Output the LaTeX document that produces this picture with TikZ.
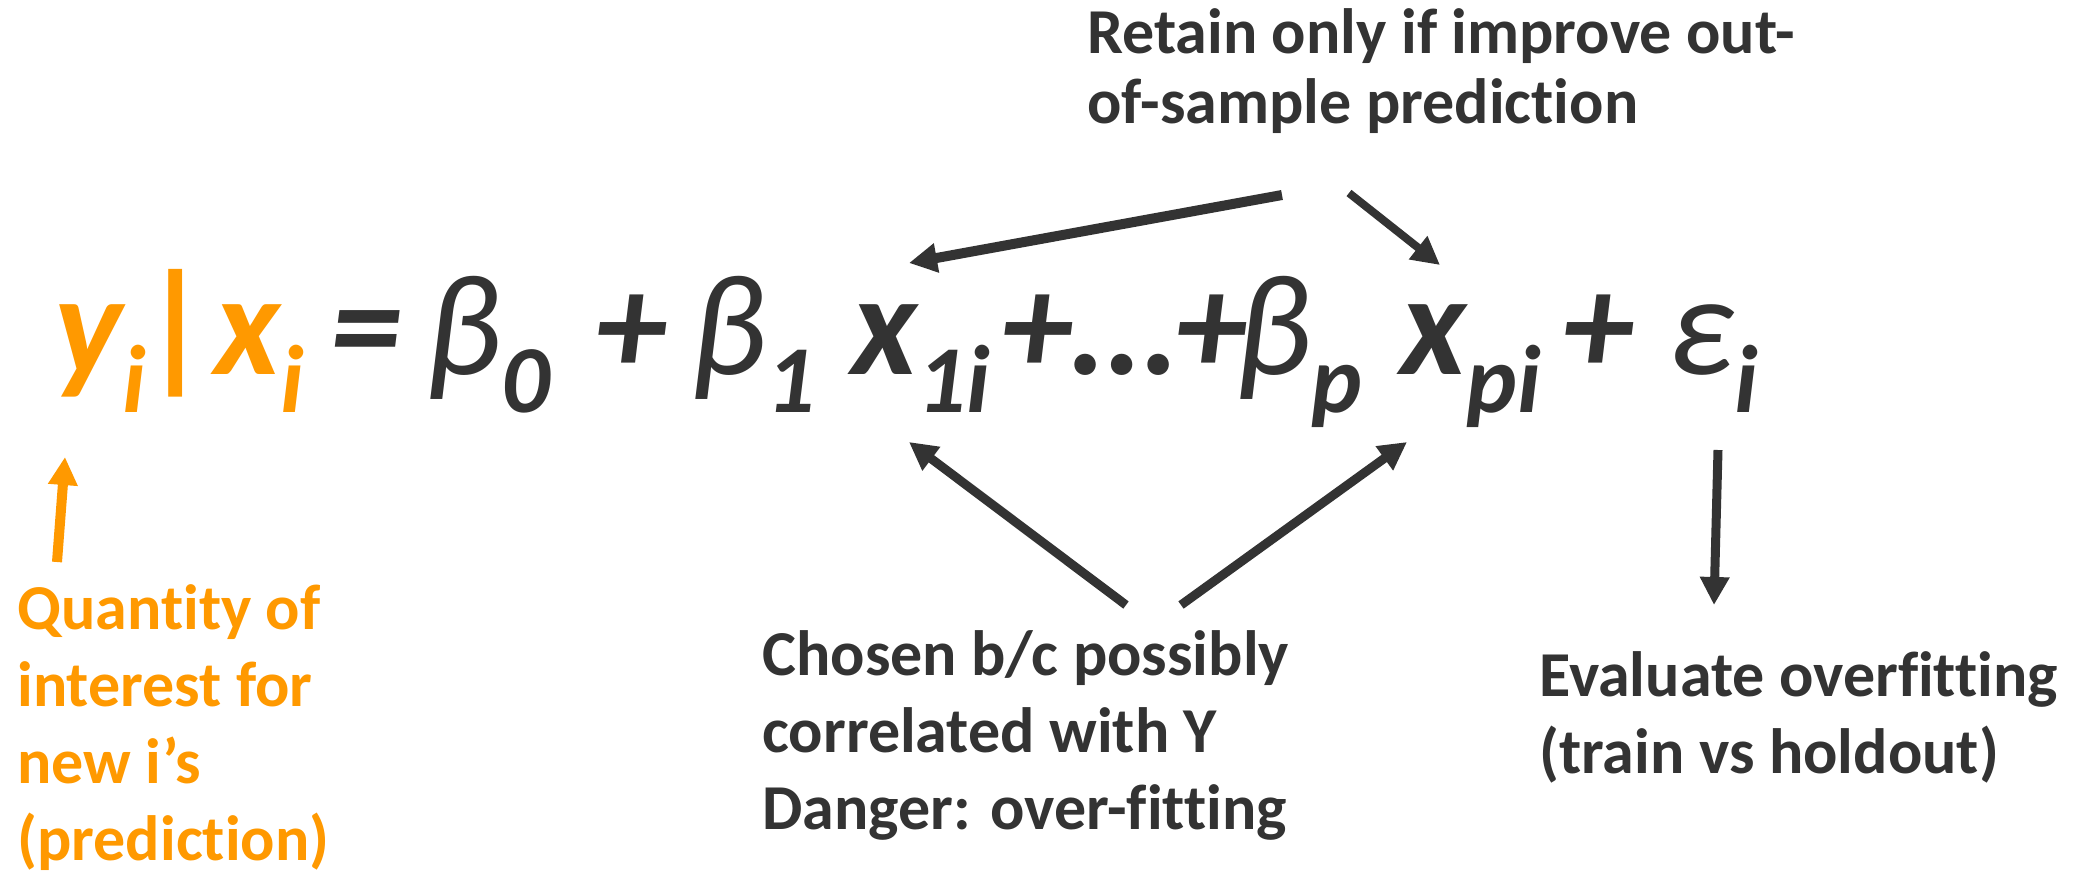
\documentclass[tikz,border=0pt]{standalone}
\usepackage{fontspec}
\setmainfont{Carlito}[Ligatures=NoCommon]
\usetikzlibrary{arrows.meta,positioning}
\definecolor{regink}{RGB}{51,51,51}
\definecolor{regorange}{RGB}{255,153,0}
% subscript of the big formula
\newcommand{\sbs}[1]{\raisebox{-19pt}{\fontsize{48}{48}\selectfont #1}}
\newcommand{\thin}{\mdseries}

\begin{document}
\begin{tikzpicture}[x=0.5pt, y=-0.5pt,
  eqterm/.style={inner sep=0pt, anchor=base west, text=regink,
                 font=\fontsize{72}{80}\selectfont\bfseries\itshape},
  lbl/.style={inner sep=0pt, anchor=base west, align=left, text=regink,
              font=\fontsize{32}{38.5}\selectfont\bfseries},
  arr/.style={-{Triangle[length=14pt,width=14pt]}, line width=4.5pt, draw=regink}
]
\fill[white] (0,0) rectangle (2085,875);
\useasboundingbox (0,0) rectangle (2085,875);
% the regression formula
\node[eqterm, text=regorange] (yx)   at (54,374)   {y\sbs{i}|x\sbs{i}};
\node[eqterm] (eq)   at (330,374)  {=};
\node[eqterm] (b0)   at (425,374)  {{\thin β}\sbs{0}};
\node[eqterm] (pl1)  at (595,374)  {+};
\node[eqterm] (b1)   at (690,374)  {{\thin β}\sbs{1}};
\node[eqterm] (x1)   at (851,374)  {x\sbs{1i}};
\node[eqterm] (dots) at (1001,374) {+…+};
\node[eqterm] (bp)   at (1235,374) {{\thin β}\sbs{p}};
\node[eqterm] (xp)   at (1400,374) {x\sbs{pi}};
\node[eqterm] (pl2)  at (1562,374) {+};
\node[eqterm] (eps)  at (1668,374) {{\thin ε}\sbs{i}};
% notes (placed by the baseline of their last line)
\node[lbl, font=\fontsize{32}{35}\selectfont\bfseries] (retain) at (1087,123)
  {Retain only if improve out-\\of-sample prediction};
\node[lbl] (chosen) at (762,829)
  {Chosen b/c possibly\\correlated with Y\\Danger: over-fitting};
\node[lbl] (evaluate) at (1539,773)
  {Evaluate overfitting\\(train vs holdout)};
\node[lbl, text=regorange] (quantity) at (17,860)
  {Quantity of\\interest for\\new i’s\\(prediction)};
% arrows
\draw[arr, line width=5pt] ([xshift=97.5pt,yshift=-36pt]retain.base west) -- ([xshift=29pt,yshift=55.5pt]x1.base west);
\draw[arr, line width=4pt] ([xshift=131pt,yshift=-35pt]retain.base west) -- ([xshift=20pt,yshift=54.5pt]xp.base west);
\draw[arr] ([xshift=182pt,yshift=112pt]chosen.base west) -- ([xshift=29pt,yshift=-34pt]x1.base west);
\draw[arr] ([xshift=209.5pt,yshift=112pt]chosen.base west) -- ([xshift=3.5pt,yshift=-34pt]xp.base west);
\draw[arr] ([xshift=25pt,yshift=-38pt]eps.base west) -- ([xshift=87.5pt,yshift=84pt]evaluate.base west);
\draw[arr, draw=regorange, line width=5pt] ([xshift=20pt,yshift=149pt]quantity.base west) -- ([xshift=5.5pt,yshift=-41.5pt]yx.base west);
\end{tikzpicture}
\end{document}
